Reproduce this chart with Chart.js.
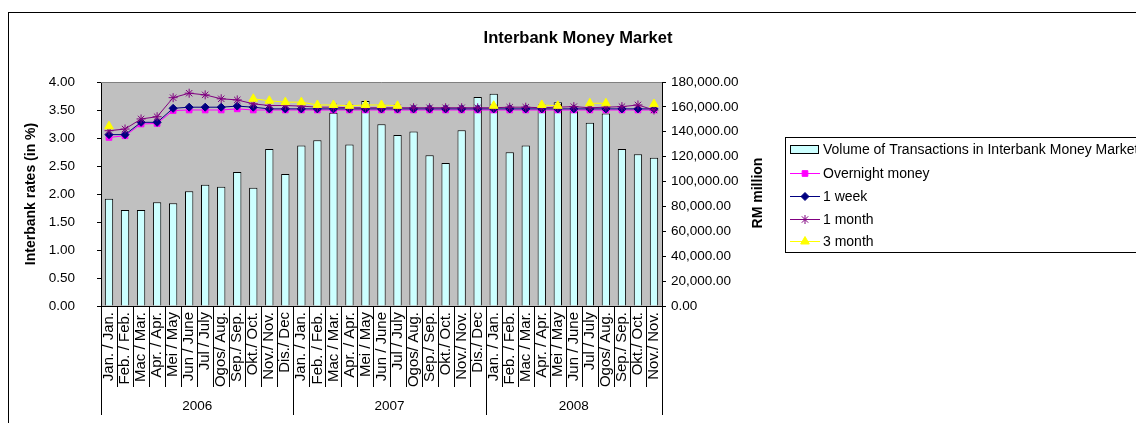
<!DOCTYPE html>
<html>
<head>
<meta charset="utf-8">
<script src="https://cdn.jsdelivr.net/npm/chart.js@4/dist/chart.umd.min.js"></script>
<style>
  html, body { margin: 0; padding: 0; background: #ffffff; }
  #wrap { width: 1136px; height: 423px; }
</style>
</head>
<body>
<div id="wrap"><canvas id="c" width="1136" height="423"></canvas></div>
<script>
// ---------------- DATA ----------------
const categories = [
  'Jan. / Jan.', 'Feb. / Feb.', 'Mac / Mar.', 'Apr. / Apr.', 'Mei / May', 'Jun / June',
  'Jul / July', 'Ogos/ Aug.', 'Sep./ Sep.', 'Okt./ Oct.', 'Nov./ Nov.', 'Dis./ Dec',
  'Jan. / Jan.', 'Feb. / Feb.', 'Mac / Mar.', 'Apr. / Apr.', 'Mei / May', 'Jun / June',
  'Jul / July', 'Ogos/ Aug.', 'Sep./ Sep.', 'Okt./ Oct.', 'Nov./ Nov.', 'Dis./ Dec',
  'Jan. / Jan.', 'Feb. / Feb.', 'Mac / Mar.', 'Apr. / Apr.', 'Mei / May', 'Jun / June',
  'Jul / July', 'Ogos/ Aug.', 'Sep./ Sep.', 'Okt./ Oct.', 'Nov./ Nov.'
];
const years = ['2006', '2007', '2008'];
const monthsPerYear = [12, 12, 11];

const volume = [
  86100, 77200, 77200, 83400, 82600, 92300, 97400, 95800, 107600, 95000, 126200, 106000,
  128900, 133200, 155300, 129700, 164700, 146100, 137500, 140200, 121100, 114900, 141300, 167900,
  170600, 123500, 128900, 157800, 163800, 156400, 147300, 154600, 126200, 121900, 119200
];
const overnight = [
  3.01, 3.04, 3.25, 3.26, 3.49, 3.50, 3.50, 3.50, 3.52, 3.50, 3.50, 3.50,
  3.50, 3.50, 3.50, 3.50, 3.50, 3.50, 3.50, 3.50, 3.50, 3.50, 3.50, 3.50,
  3.50, 3.50, 3.50, 3.50, 3.50, 3.50, 3.50, 3.50, 3.50, 3.50, 3.50
];
const week1 = [
  3.06, 3.06, 3.28, 3.28, 3.53, 3.55, 3.55, 3.55, 3.57, 3.55, 3.52, 3.52,
  3.52, 3.52, 3.52, 3.52, 3.52, 3.52, 3.52, 3.52, 3.52, 3.52, 3.52, 3.52,
  3.52, 3.52, 3.52, 3.52, 3.52, 3.52, 3.52, 3.52, 3.52, 3.52, 3.52
];
const month1 = [
  3.13, 3.16, 3.34, 3.38, 3.72, 3.80, 3.77, 3.70, 3.68, 3.61, 3.58, 3.58,
  3.57, 3.55, 3.55, 3.54, 3.54, 3.54, 3.54, 3.54, 3.54, 3.54, 3.54, 3.54,
  3.54, 3.55, 3.55, 3.54, 3.55, 3.56, 3.54, 3.55, 3.56, 3.59, 3.50
];
const month3 = [
  3.21, null, null, null, null, null, null, null, null, 3.70, 3.665, 3.64,
  3.64, 3.59, 3.59, 3.575, 3.59, 3.59, 3.575, null, null, null, null, null,
  3.575, null, null, 3.59, 3.575, null, 3.62, 3.62, null, null, 3.605
];
const leftTicks = { min: 0, max: 4, step: 0.5 };
const rightTicks = { min: 0, max: 180000, step: 20000 };

// ---------------- CHART ----------------
const FONT = "'Liberation Sans', Arial, sans-serif";
Chart.defaults.font.family = FONT;
Chart.defaults.color = '#000';

const decorPlugin = {
  id: 'decor',
  beforeDraw(chart) {
    const { ctx, chartArea: a } = chart;
    ctx.save();
    ctx.fillStyle = '#ffffff';
    ctx.fillRect(0, 0, chart.width, chart.height);
    ctx.fillStyle = '#C0C0C0';
    ctx.fillRect(a.left, a.top, a.right - a.left, a.bottom - a.top);
    ctx.restore();
  },
  afterDraw(chart) {
    const { ctx, chartArea: a } = chart;
    const xs = chart.scales.x;
    ctx.save();
    // plot area top border
    ctx.strokeStyle = '#808080';
    ctx.lineWidth = 1;
    ctx.beginPath();
    ctx.moveTo(a.left, Math.round(a.top) + 0.5);
    ctx.lineTo(a.right, Math.round(a.top) + 0.5);
    ctx.stroke();

    // category separators & year separators
    const n = categories.length;
    const bounds = [];
    bounds.push(xs.left);
    for (let i = 1; i < n; i++) {
      bounds.push((xs.getPixelForValue(i - 1) + xs.getPixelForValue(i)) / 2);
    }
    bounds.push(xs.right);
    const yearStarts = [0];
    let acc = 0;
    monthsPerYear.forEach(m => { acc += m; yearStarts.push(acc); });
    ctx.strokeStyle = '#000';
    for (let i = 0; i <= n; i++) {
      const isYear = yearStarts.includes(i);
      const x = Math.round(bounds[i]) + 0.5;
      ctx.beginPath();
      ctx.moveTo(x, a.bottom);
      ctx.lineTo(x, isYear ? 415 : 387);
      ctx.stroke();
    }
    // year labels
    ctx.fillStyle = '#000';
    ctx.font = '13.5px ' + FONT;
    ctx.textAlign = 'center';
    ctx.textBaseline = 'middle';
    for (let k = 0; k < years.length; k++) {
      const cx = (bounds[yearStarts[k]] + bounds[yearStarts[k + 1]]) / 2;
      ctx.fillText(years[k], cx, 406);
    }

    // chart title
    ctx.font = 'bold 16.5px ' + FONT;
    ctx.fillText('Interbank Money Market', 578, 38);

    // right axis title (reads bottom-to-top)
    ctx.save();
    ctx.translate(758, 193);
    ctx.rotate(-Math.PI / 2);
    ctx.font = 'bold 14px ' + FONT;
    ctx.fillText('RM million', 0, 0);
    ctx.restore();

    // legend
    ctx.strokeStyle = '#000';
    ctx.lineWidth = 1;
    ctx.strokeRect(785.5, 137.5, 420, 115);
    const rows = [149, 173, 196, 219, 241];
    ctx.textAlign = 'left';
    ctx.font = '14px ' + FONT;
    chart.data.datasets.forEach((ds, i) => {
      const y = rows[i];
      if (ds.type === 'line') {
        ctx.strokeStyle = ds.borderColor;
        ctx.lineWidth = 1;
        ctx.beginPath();
        ctx.moveTo(790, y + 0.5);
        ctx.lineTo(820, y + 0.5);
        ctx.stroke();
        ctx.fillStyle = ds.pointBackgroundColor;
        ctx.strokeStyle = ds.pointBorderColor;
        Chart.helpers.drawPoint(ctx, {
          pointStyle: ds.pointStyle, radius: ds.pointRadius, rotation: 0, borderWidth: 1
        }, 805, y + 0.5);
      } else {
        ctx.fillStyle = ds.backgroundColor;
        ctx.fillRect(790, y - 4, 28, 8);
        ctx.strokeStyle = ds.borderColor;
        ctx.strokeRect(790.5, y - 3.5, 28, 8);
      }
      ctx.fillStyle = '#000';
      ctx.fillText(ds.label, 823, y + 1);
    });

    // outer frame
    ctx.strokeStyle = '#000';
    ctx.strokeRect(8.5, 12.5, 2000, 2000);
    ctx.restore();
  }
};

const lineDs = (label, data, color, style, radius, order) => ({
  type: 'line',
  label,
  data,
  yAxisID: 'y',
  borderColor: color,
  backgroundColor: color,
  borderWidth: 1,
  pointStyle: style,
  pointRadius: radius,
  pointHoverRadius: radius,
  pointBackgroundColor: color,
  pointBorderColor: color,
  pointBorderWidth: 1,
  spanGaps: false,
  tension: 0,
  order
});

new Chart(document.getElementById('c'), {
  type: 'bar',
  data: {
    labels: categories,
    datasets: [
      {
        type: 'bar',
        label: 'Volume of Transactions in Interbank Money Market',
        data: volume,
        yAxisID: 'y1',
        backgroundColor: '#CCFFFF',
        borderColor: '#000000',
        borderWidth: 1,
        barPercentage: 0.52,
        categoryPercentage: 1.0,
        order: 10
      },
      lineDs('Overnight money', overnight, '#FF00FF', 'rect', 4, 4),
      lineDs('1 week', week1, '#000080', 'rectRot', 4, 3),
      lineDs('1 month', month1, '#800080', 'star', 4.5, 2),
      lineDs('3 month', month3, '#FFFF00', 'triangle', 5, 1)
    ]
  },
  options: {
    responsive: false,
    animation: false,
    devicePixelRatio: 1,
    layout: { padding: { top: 82, left: 0, right: 368, bottom: 0 } },
    plugins: {
      legend: { display: false },
      title: { display: false },
      tooltip: { enabled: false }
    },
    scales: {
      x: {
        type: 'category',
        offset: true,
        grid: { display: false, drawTicks: false },
        border: { display: true, color: '#000', width: 1 },
        ticks: {
          autoSkip: false,
          minRotation: 90,
          maxRotation: 90,
          padding: 6,
          font: { size: 15 }
        },
        afterFit: s => { s.height = 117; }
      },
      y: {
        position: 'left',
        min: leftTicks.min,
        max: leftTicks.max,
        ticks: {
          stepSize: leftTicks.step,
          padding: 22,
          font: { size: 13.5 },
          callback: v => Number(v).toFixed(2)
        },
        grid: { drawOnChartArea: false, tickLength: 4, color: '#000' },
        border: { color: '#000', width: 1 },
        title: {
          display: true,
          text: 'Interbank rates (in %)',
          font: { size: 14, weight: 'bold' },
          padding: { top: 23, bottom: 0 }
        },
        afterFit: s => { s.width = 101; }
      },
      y1: {
        position: 'right',
        min: rightTicks.min,
        max: rightTicks.max,
        ticks: {
          stepSize: rightTicks.step,
          padding: 5,
          font: { size: 13.5 },
          callback: v => Number(v).toLocaleString('en-US', { minimumFractionDigits: 2, maximumFractionDigits: 2 })
        },
        grid: { drawOnChartArea: false, tickLength: 4, color: '#000' },
        border: { color: '#000', width: 1 },
        afterFit: s => { s.width = 106; }
      }
    }
  },
  plugins: [decorPlugin]
});
</script>
</body>
</html>
